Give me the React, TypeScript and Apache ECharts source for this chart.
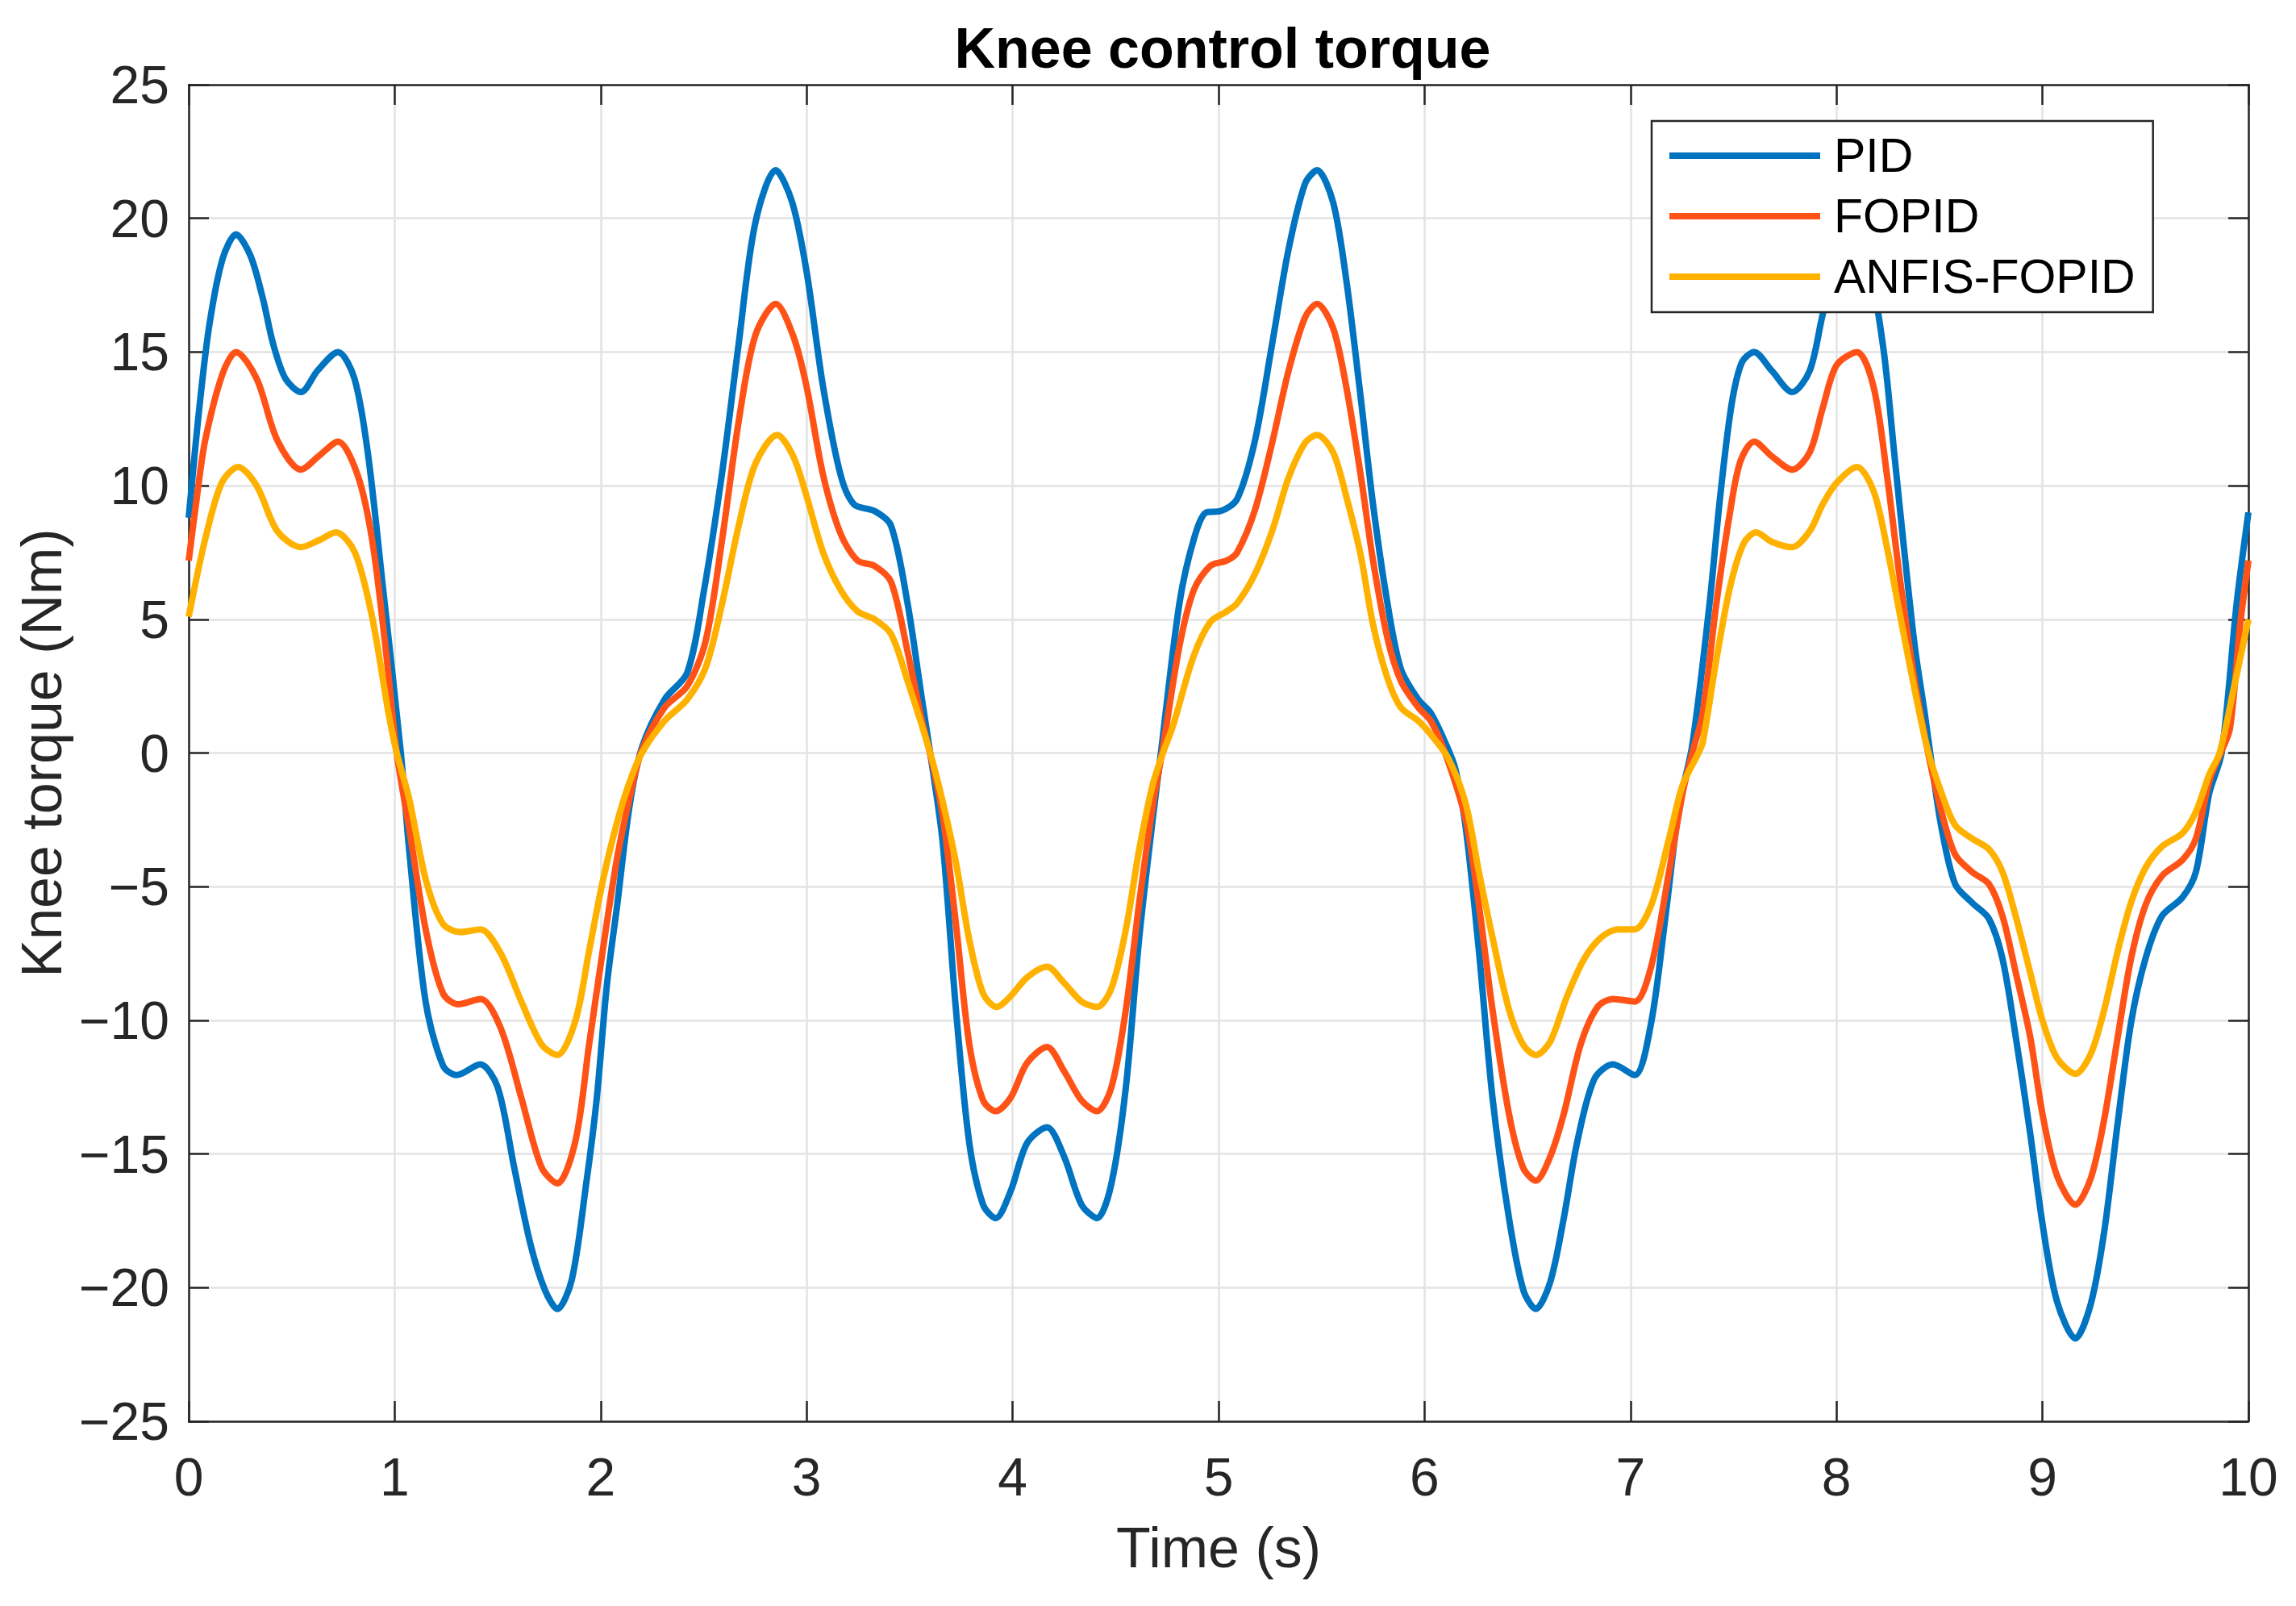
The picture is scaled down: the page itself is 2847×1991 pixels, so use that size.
import React, { useEffect, useRef } from "react";
import * as echarts from "echarts";

const TITLE = "Knee control torque";
const X_NAME = "Time (s)";
const Y_NAME = "Knee torque (Nm)";
const SERIES_NAMES = ["PID", "FOPID", "ANFIS-FOPID"];
const COLORS = ["#0074C0", "#FF5216", "#FFB100"];

const pid: [number, number][] = [
  [0, 8.8], [0.05, 12.8], [0.1, 16.0], [0.165, 18.5], [0.23, 19.4], [0.3, 18.6], [0.36, 17.0],
  [0.41, 15.3], [0.47, 14.0], [0.545, 13.5], [0.625, 14.3], [0.725, 15.0], [0.805, 14.0],
  [0.87, 11.2], [0.94, 6.4], [1.03, 0.0],
  [1.07, -3.6], [1.15, -9.3], [1.235, -11.7], [1.3, -12.05], [1.415, -11.65], [1.5, -12.5],
  [1.58, -15.5], [1.66, -18.4], [1.73, -20.1], [1.79, -20.8], [1.86, -19.7], [1.93, -16.1],
  [1.98, -13.0], [2.03, -8.7], [2.08, -5.7], [2.14, -2.0], [2.2, 0.2], [2.31, 2.0], [2.42, 3.0],
  [2.5, 6.0], [2.59, 10.5], [2.67, 15.3], [2.75, 19.8], [2.85, 21.8], [2.93, 20.6], [3.0, 18.0],
  [3.08, 13.7], [3.165, 10.4], [3.23, 9.3], [3.33, 9.05], [3.41, 8.5], [3.49, 5.6], [3.56, 2.0],
  [3.6, 0.0], [3.66, -3.3], [3.725, -9.6], [3.79, -14.6], [3.857, -16.9], [3.918, -17.4],
  [3.99, -16.4], [4.07, -14.6], [4.167, -14.0], [4.25, -15.1], [4.335, -16.9], [4.41, -17.4],
  [4.48, -16.1], [4.55, -12.5], [4.615, -6.9], [4.68, -2.5], [4.72, 0.0], [4.81, 5.6], [4.88, 8.0],
  [4.94, 9.0], [5.01, 9.05], [5.09, 9.5], [5.177, 11.7], [5.26, 15.3], [5.34, 18.85], [5.42, 21.3],
  [5.478, 21.8], [5.556, 20.6], [5.62, 17.7], [5.69, 13.3], [5.75, 9.3], [5.82, 5.6], [5.885, 3.15],
  [5.97, 2.0], [6.03, 1.5], [6.1, 0.4], [6.15, -0.6], [6.2, -2.8], [6.264, -7.4], [6.33, -12.9],
  [6.41, -17.4], [6.48, -20.1], [6.54, -20.8], [6.61, -19.8], [6.676, -17.4], [6.74, -14.6],
  [6.824, -12.2], [6.915, -11.65], [7.02, -12.05], [7.1, -10.1], [7.17, -6.1], [7.236, -2.0],
  [7.3, 0.3], [7.384, 5.6], [7.434, 9.5], [7.49, 13.0], [7.54, 14.6], [7.6, 15.0], [7.686, 14.3],
  [7.785, 13.5], [7.87, 14.3], [7.933, 16.4], [8.0, 18.3], [8.1, 19.4], [8.16, 18.2], [8.23, 15.0],
  [8.28, 11.25], [8.33, 7.5], [8.38, 4.0], [8.43, 1.4], [8.455, 0.0], [8.51, -2.8], [8.576, -4.9],
  [8.658, -5.6], [8.74, -6.2], [8.806, -7.7], [8.87, -10.6], [8.94, -14.2], [9.0, -17.6],
  [9.07, -20.5], [9.16, -21.9], [9.235, -20.6], [9.3, -17.9], [9.366, -13.8], [9.43, -10.1],
  [9.5, -7.7], [9.58, -6.1], [9.68, -5.4], [9.745, -4.45], [9.81, -1.5], [9.87, 0.0], [9.943, 5.6],
  [10, 9.0],
];

const fopid: [number, number][] = [
  [0, 7.2], [0.04, 9.6], [0.08, 11.7], [0.165, 14.2], [0.23, 15.0], [0.33, 14.0], [0.43, 11.7],
  [0.545, 10.6], [0.63, 11.1], [0.725, 11.65], [0.82, 10.4], [0.89, 8.0], [0.955, 4.0], [1.01, 0.0],
  [1.07, -2.8], [1.153, -6.7], [1.235, -9.0], [1.31, -9.4], [1.417, -9.2], [1.515, -10.3],
  [1.615, -12.9], [1.713, -15.5], [1.79, -16.1], [1.878, -14.5], [1.944, -10.9], [2.01, -7.4],
  [2.076, -4.1], [2.14, -1.7], [2.2, 0.1], [2.31, 1.7], [2.42, 2.5], [2.51, 4.2], [2.59, 8.0],
  [2.67, 12.4], [2.75, 15.6], [2.85, 16.8], [2.935, 15.6], [3.0, 13.7], [3.08, 10.4], [3.165, 8.2],
  [3.247, 7.2], [3.33, 7.0], [3.41, 6.4], [3.49, 3.8], [3.56, 1.2], [3.605, -0.2], [3.66, -2.3],
  [3.725, -6.4], [3.79, -10.9], [3.857, -13.0], [3.918, -13.4], [3.99, -12.9], [4.07, -11.6],
  [4.167, -11.0], [4.25, -11.9], [4.335, -13.0], [4.41, -13.4], [4.48, -12.5], [4.55, -9.6],
  [4.615, -5.6], [4.68, -2.0], [4.73, 0.2], [4.81, 4.0], [4.88, 6.1], [4.96, 7.0], [5.04, 7.2],
  [5.09, 7.5], [5.177, 9.1], [5.26, 11.6], [5.34, 14.3], [5.42, 16.3], [5.478, 16.8], [5.556, 15.9],
  [5.62, 13.7], [5.69, 10.4], [5.75, 7.2], [5.82, 4.3], [5.885, 2.7], [5.97, 1.7], [6.03, 1.2],
  [6.1, 0.0], [6.2, -2.5], [6.264, -5.7], [6.33, -9.6], [6.41, -13.5], [6.478, -15.5], [6.54, -16.0],
  [6.61, -15.1], [6.676, -13.5], [6.758, -10.9], [6.84, -9.5], [6.915, -9.2], [7.02, -9.3],
  [7.1, -8.0], [7.187, -4.45], [7.253, -1.5], [7.3, 0.0], [7.351, 1.5], [7.417, 5.6], [7.483, 9.0],
  [7.533, 10.9], [7.6, 11.65], [7.686, 11.1], [7.785, 10.6], [7.87, 11.25], [7.933, 12.9],
  [8.0, 14.5], [8.1, 15.0], [8.18, 13.7], [8.245, 10.4], [8.31, 6.4], [8.38, 2.7], [8.445, 0.0],
  [8.51, -2.2], [8.576, -3.8], [8.658, -4.45], [8.74, -4.9], [8.806, -6.1], [8.87, -8.2],
  [8.94, -10.6], [9.0, -13.5], [9.07, -15.8], [9.16, -16.9], [9.235, -15.9], [9.3, -13.7],
  [9.366, -10.6], [9.43, -7.7], [9.5, -5.7], [9.58, -4.6], [9.68, -4.0], [9.745, -3.2],
  [9.81, -1.05], [9.865, 0.0], [9.91, 0.9], [9.96, 4.8], [10, 7.2],
];

const anfis: [number, number][] = [
  [0, 5.1], [0.08, 8.0], [0.16, 10.1], [0.24, 10.7], [0.33, 10.0], [0.43, 8.3], [0.545, 7.7],
  [0.63, 7.95], [0.715, 8.25], [0.807, 7.5], [0.89, 5.1], [0.97, 1.5], [1.01, 0.0], [1.07, -1.7],
  [1.153, -4.8], [1.235, -6.4], [1.32, -6.7], [1.417, -6.6], [1.515, -7.5], [1.615, -9.3],
  [1.713, -10.9], [1.79, -11.3], [1.878, -10.0], [1.944, -7.4], [2.01, -4.8], [2.076, -2.7],
  [2.14, -1.1], [2.2, 0.0], [2.31, 1.2], [2.42, 2.0], [2.51, 3.2], [2.59, 5.6], [2.67, 8.5],
  [2.75, 10.8], [2.857, 11.9], [2.935, 11.1], [3.0, 9.6], [3.08, 7.5], [3.165, 6.1], [3.247, 5.3],
  [3.33, 5.0], [3.41, 4.45], [3.49, 2.7], [3.6, 0.0], [3.66, -1.8], [3.725, -4.1], [3.79, -7.0],
  [3.857, -9.0], [3.923, -9.5], [3.99, -9.1], [4.07, -8.4], [4.167, -8.0], [4.25, -8.6],
  [4.335, -9.3], [4.41, -9.5], [4.48, -8.8], [4.55, -6.6], [4.615, -3.6], [4.68, -1.2],
  [4.73, 0.0], [4.78, 1.05], [4.878, 3.6], [4.96, 4.9], [5.04, 5.3], [5.09, 5.6], [5.177, 6.7],
  [5.26, 8.3], [5.34, 10.3], [5.42, 11.6], [5.478, 11.9], [5.556, 11.25], [5.62, 9.6], [5.69, 7.4],
  [5.75, 4.8], [5.82, 2.8], [5.885, 1.7], [5.97, 1.2], [6.03, 0.7], [6.115, -0.2], [6.2, -1.9],
  [6.264, -4.45], [6.33, -6.9], [6.41, -9.6], [6.478, -10.9], [6.54, -11.3], [6.61, -10.8],
  [6.692, -9.1], [6.775, -7.7], [6.857, -6.9], [6.94, -6.6], [7.02, -6.6], [7.1, -5.7],
  [7.187, -3.2], [7.253, -1.2], [7.33, 0.0], [7.351, 0.4], [7.417, 3.5], [7.483, 6.2], [7.55, 7.85],
  [7.61, 8.25], [7.686, 7.9], [7.785, 7.7], [7.87, 8.3], [7.933, 9.3], [8.0, 10.1], [8.1, 10.7],
  [8.18, 9.8], [8.245, 7.7], [8.31, 5.1], [8.38, 2.35], [8.445, 0.05], [8.51, -1.5], [8.576, -2.7],
  [8.658, -3.2], [8.74, -3.6], [8.806, -4.45], [8.87, -6.1], [8.94, -8.2], [9.0, -10.0],
  [9.07, -11.4], [9.16, -12.0], [9.235, -11.25], [9.3, -9.6], [9.366, -7.4], [9.43, -5.6],
  [9.5, -4.3], [9.58, -3.5], [9.68, -3.0], [9.745, -2.2], [9.81, -0.8], [9.86, 0.0], [9.927, 2.35],
  [10, 5.0],
];

const SERIES_DATA = [pid, fopid, anfis];

const X_MIN = 0;
const X_MAX = 10;
const X_STEP = 1;
const Y_MIN = -25;
const Y_MAX = 25;
const Y_STEP = 5;

const FONT = "'Liberation Sans', Arial, Helvetica, sans-serif";
const AXIS_COLOR = "#262626";
const GRID_COLOR = "#e3e3e3";

export default function App() {
  const ref = useRef<HTMLDivElement>(null);

  useEffect(() => {
    if (!ref.current) return;
    const chart = echarts.init(ref.current, undefined, { renderer: "svg" });

    const tickCommon = {
      show: true,
      inside: true,
      length: 25,
      lineStyle: { color: AXIS_COLOR, width: 2.5 },
    };
    const lineCommon = { show: true, onZero: false, lineStyle: { color: AXIS_COLOR, width: 2.5 } };

    const option: any = {
      animation: false,
      backgroundColor: "#ffffff",
      title: {
        text: TITLE,
        left: 1511,
        textAlign: "center",
        top: 20,
        textStyle: {
          fontFamily: FONT,
          fontSize: 70,
          fontWeight: "bold",
          color: "#000000",
          lineHeight: 70,
        },
      },
      legend: {
        show: true,
        orient: "vertical",
        left: 2048,
        top: 150,
        padding: [13, 22, 14, 22],
        itemGap: 15,
        itemWidth: 187,
        itemHeight: 8,
        icon: "rect",
        backgroundColor: "#ffffff",
        borderColor: AXIS_COLOR,
        borderWidth: 2.5,
        borderRadius: 0,
        textStyle: {
          fontFamily: FONT,
          fontSize: 59,
          lineHeight: 60,
          color: "#000000",
          padding: [0, 0, 0, 12],
        },
        data: SERIES_NAMES,
      },
      grid: {
        left: 234,
        top: 105,
        width: 2554,
        height: 1657,
        containLabel: false,
      },
      xAxis: [
        {
          type: "value",
          position: "bottom",
          min: X_MIN,
          max: X_MAX,
          interval: X_STEP,
          name: X_NAME,
          nameLocation: "middle",
          nameGap: 122,
          nameTextStyle: { fontFamily: FONT, fontSize: 70, color: AXIS_COLOR, lineHeight: 70 },
          axisLine: lineCommon,
          axisTick: tickCommon,
          axisLabel: {
            show: true,
            margin: 36,
            fontFamily: FONT,
            fontSize: 66,
            color: AXIS_COLOR,
            lineHeight: 66,
          },
          splitLine: { show: true, lineStyle: { color: GRID_COLOR, width: 2.5 } },
        },
        {
          type: "value",
          position: "top",
          min: X_MIN,
          max: X_MAX,
          interval: X_STEP,
          axisLine: lineCommon,
          axisTick: tickCommon,
          axisLabel: { show: false },
          splitLine: { show: false },
        },
      ],
      yAxis: [
        {
          type: "value",
          position: "left",
          min: Y_MIN,
          max: Y_MAX,
          interval: Y_STEP,
          name: Y_NAME,
          nameLocation: "middle",
          nameGap: 140,
          nameRotate: 90,
          nameTextStyle: { fontFamily: FONT, fontSize: 70, color: AXIS_COLOR, lineHeight: 70 },
          axisLine: lineCommon,
          axisTick: tickCommon,
          axisLabel: {
            show: true,
            margin: 24,
            fontFamily: FONT,
            fontSize: 66,
            color: AXIS_COLOR,
            formatter: (v: number) => (v < 0 ? "\u2212" + Math.abs(v) : String(v)),
          },
          splitLine: { show: true, lineStyle: { color: GRID_COLOR, width: 2.5 } },
        },
        {
          type: "value",
          position: "right",
          min: Y_MIN,
          max: Y_MAX,
          interval: Y_STEP,
          axisLine: lineCommon,
          axisTick: tickCommon,
          axisLabel: { show: false },
          splitLine: { show: false },
        },
      ],
      series: SERIES_NAMES.map((name, i) => ({
        name,
        type: "line",
        xAxisIndex: 0,
        yAxisIndex: 0,
        data: SERIES_DATA[i],
        smooth: 0.3,
        symbol: "none",
        showSymbol: false,
        color: COLORS[i],
        itemStyle: { color: COLORS[i] },
        lineStyle: { color: COLORS[i], width: 8 },
        z: 3 + i,
      })),
    };

    chart.setOption(option);
    return () => {
      chart.dispose();
    };
  }, []);

  return (
    <div
      ref={ref}
      style={{
        position: "fixed",
        left: 0,
        top: 0,
        width: "2847px",
        height: "1991px",
        background: "#ffffff",
      }}
    />
  );
}
